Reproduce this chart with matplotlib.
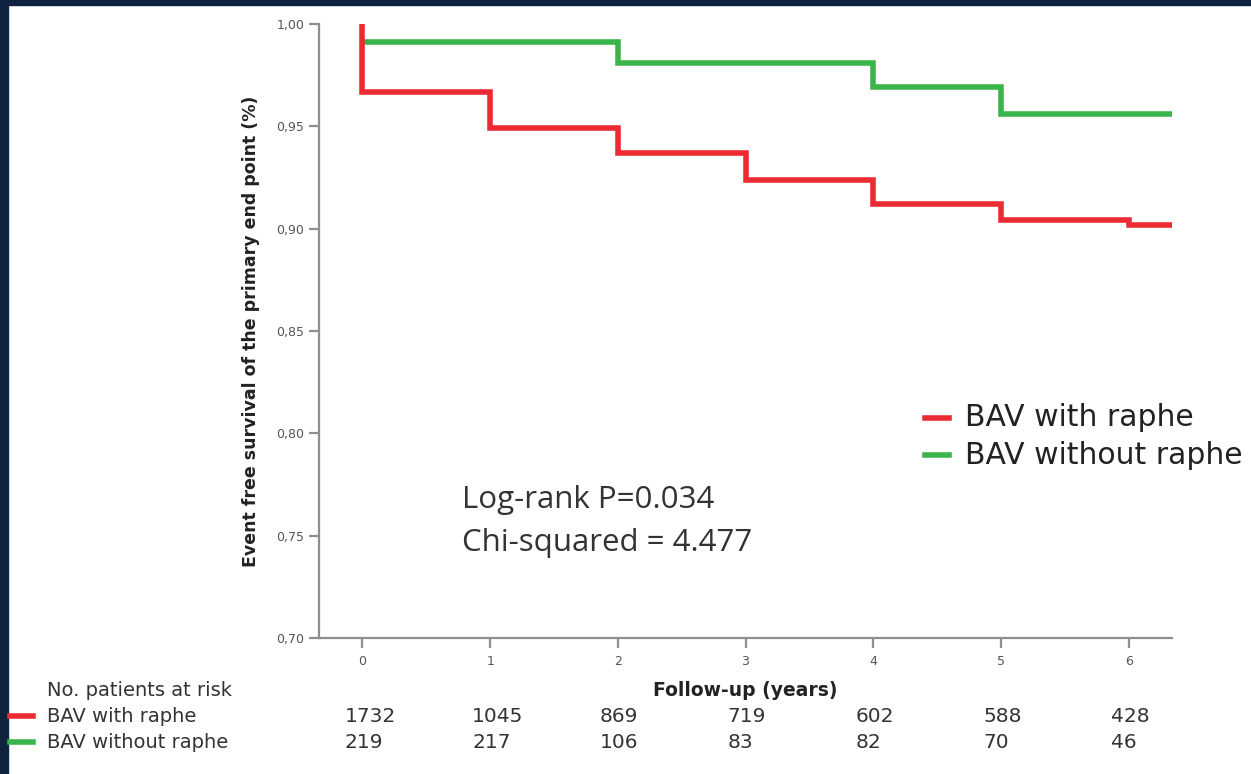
import matplotlib
matplotlib.use("Agg")
import matplotlib.pyplot as plt
import matplotlib.transforms as mtransforms
from matplotlib.patches import Rectangle

# Kaplan-Meier step values
red_times = [0, 0, 1, 2, 3, 4, 5, 6, 6.34]
red_surv = [1.000, 0.967, 0.949, 0.937, 0.924, 0.912, 0.904, 0.902, 0.902]
green_times = [0, 2, 4, 5, 6.34]
green_surv = [0.991, 0.981, 0.969, 0.956, 0.956]

groups = ["BAV with raphe", "BAV without raphe"]
risk_years = [0, 1, 2, 3, 4, 5, 6]
risk_red = [1732, 1045, 869, 719, 602, 588, 428]
risk_green = [219, 217, 106, 83, 82, 70, 46]

y_ticks = [0.70, 0.75, 0.80, 0.85, 0.90, 0.95, 1.00]
RED = "#ec2a32"
GREEN = "#3ab54a"
NAVY = "#0f2240"
GREY = "#8e8e8e"

fig = plt.figure(figsize=(12.51, 7.74), dpi=100)
fig.patch.set_facecolor("white")
# dark frame on top and left edge
fig.add_artist(Rectangle((0, 0), 8 / 1251, 1, transform=fig.transFigure,
                         color=NAVY, zorder=0))
fig.add_artist(Rectangle((0, 1 - 5 / 774), 1, 5 / 774, transform=fig.transFigure,
                         color=NAVY, zorder=0))

ax = fig.add_axes([319 / 1251, 1 - 638 / 774, (1172 - 319) / 1251, (638 - 24) / 774])

ax.step(green_times, green_surv, where="post", color=GREEN, lw=4,
        solid_joinstyle="miter", solid_capstyle="butt")
ax.step(red_times, red_surv, where="post", color=RED, lw=4,
        solid_joinstyle="miter", solid_capstyle="butt")

ax.set_xlim(-0.34, 6.34)
ax.set_ylim(0.70, 1.00)
ax.set_xticks(risk_years)
ax.set_yticks(y_ticks)
ax.set_yticklabels([f"{v:.2f}".replace(".", ",") for v in y_ticks])
for s in ["top", "right"]:
    ax.spines[s].set_visible(False)
for s in ["left", "bottom"]:
    ax.spines[s].set_color(GREY)
    ax.spines[s].set_linewidth(1.6)
ax.tick_params(axis="both", colors=GREY, width=1.6, length=7, labelsize=9,
               labelcolor="#555555")
ax.tick_params(axis="x", pad=5)

ax.set_ylabel("Event free survival of the primary end point (%)",
              fontsize=12.5, fontweight="bold", color="#222222", labelpad=12)

# legend drawn by hand
for i, (name, col) in enumerate(zip(groups, [RED, GREEN])):
    yy = 1 - (418 + 37 * i) / 774
    fig.add_artist(plt.Line2D([925 / 1251, 949 / 1251], [yy, yy],
                              transform=fig.transFigure, color=col, lw=4))
    fig.text(965 / 1251, yy, name, fontsize=21.5, va="center", ha="left",
             color="#222222")

fig.text(462 / 1251, 1 - 500 / 774, "Log-rank P=0.034", fontsize=22.5,
         family="Open Sans", va="center", color="#333333")
fig.text(462 / 1251, 1 - 543 / 774, "Chi-squared = 4.477", fontsize=22.5,
         family="Open Sans", va="center", color="#333333")

# numbers at risk table
tr = mtransforms.blended_transform_factory(ax.transData, fig.transFigure)
fig.text(47 / 1251, 1 - 690 / 774, "No. patients at risk", fontsize=14,
         va="center", color="#333333")
ax.text(3, 1 - 690 / 774, "Follow-up (years)", transform=tr, fontsize=13.5,
        fontweight="bold", ha="center", va="center", color="#222222")
for i, (name, col, vals) in enumerate(zip(groups, [RED, GREEN], [risk_red, risk_green])):
    yy = 1 - (716 + 26 * i) / 774
    fig.add_artist(plt.Line2D([10 / 1251, 33 / 1251], [yy, yy],
                              transform=fig.transFigure, color=col, lw=4))
    fig.text(47 / 1251, yy, name, fontsize=14, va="center", color="#333333")
    for t, v in zip(risk_years, vals):
        ax.text(t - 0.14, yy, str(v), transform=tr, fontsize=14.5,
                ha="left", va="center", color="#333333")

fig.savefig("out.png", dpi=100)
